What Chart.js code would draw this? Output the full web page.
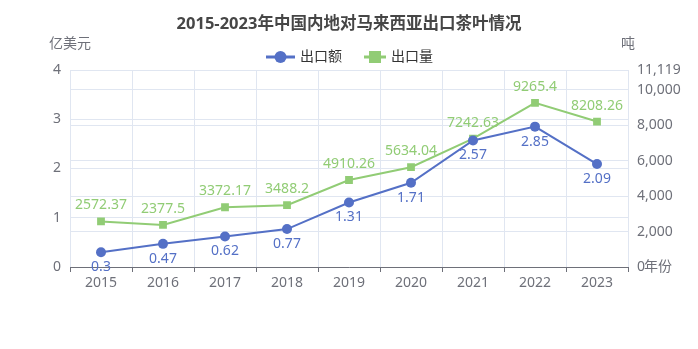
<!DOCTYPE html>
<html>
<head>
<meta charset="utf-8">
<script src="https://cdn.jsdelivr.net/npm/chart.js@4.4.1/dist/chart.umd.min.js"></script>
<style>
  html, body { margin: 0; padding: 0; background: #fff; }
</style>
</head>
<body>
<canvas id="chart" width="698" height="349"></canvas>
<script>
const years = ['2015', '2016', '2017', '2018', '2019', '2020', '2021', '2022', '2023'];
const exportValue = [0.3, 0.47, 0.62, 0.77, 1.31, 1.71, 2.57, 2.85, 2.09];       // 亿美元
const exportVolume = [2572.37, 2377.5, 3372.17, 3488.2, 4910.26, 5634.04, 7242.63, 9265.4, 8208.26]; // 吨
const leftTicks = [0, 1, 2, 3, 4];
const rightTicks = [0, 2000, 4000, 6000, 8000, 10000, 11119];

const FONT = "'Noto Sans', 'Noto Sans CJK SC', sans-serif";
const BLUE = '#5470c6';
const GREEN = '#91cc75';
const AXIS = '#6e7079';
const GRID = '#e0e6f1';

Chart.defaults.font.family = FONT;

// title, legend, axis names and point labels
const extras = {
  id: 'extras',
  afterDatasetsDraw(chart) {
    const ctx = chart.ctx;
    const area = chart.chartArea;
    ctx.save();
    ctx.font = '14px ' + FONT;
    ctx.textAlign = 'center';
    chart.data.datasets.forEach((ds, i) => {
      const meta = chart.getDatasetMeta(i);
      ctx.fillStyle = ds.borderColor;
      meta.data.forEach((pt, j) => {
        if (ds.yAxisID === 'y') {
          ctx.textBaseline = 'top';
          ctx.fillText(String(ds.data[j]), pt.x, pt.y + 8);
        } else {
          ctx.textBaseline = 'bottom';
          ctx.fillText(String(ds.data[j]), pt.x, pt.y - 9);
        }
      });
    });

    // title
    ctx.fillStyle = '#464646';
    ctx.font = 'bold 16.5px ' + FONT;
    ctx.textBaseline = 'middle';
    ctx.fillText('2015-2023年中国内地对马来西亚出口茶叶情况', 349, 24);

    // axis names
    ctx.font = '14px ' + FONT;
    ctx.fillStyle = AXIS;
    ctx.fillText('亿美元', 70, 44);
    ctx.fillText('吨', area.right, 44);
    ctx.textAlign = 'left';
    ctx.fillText('年份', area.right + 16, area.bottom);

    // legend
    const ly = 57;
    ctx.lineWidth = 3;
    ctx.strokeStyle = BLUE;
    ctx.beginPath(); ctx.moveTo(266, ly); ctx.lineTo(295, ly); ctx.stroke();
    ctx.fillStyle = BLUE;
    ctx.beginPath(); ctx.arc(280.5, ly, 6, 0, Math.PI * 2); ctx.fill();
    ctx.strokeStyle = GREEN;
    ctx.beginPath(); ctx.moveTo(364, ly); ctx.lineTo(386, ly); ctx.stroke();
    ctx.fillStyle = GREEN;
    ctx.fillRect(369, ly - 6, 12, 12);
    ctx.fillStyle = '#333';
    ctx.textBaseline = 'middle';
    ctx.fillText('出口额', 300, ly);
    ctx.fillText('出口量', 391, ly);
    ctx.restore();
  }
};

new Chart(document.getElementById('chart'), {
  type: 'line',
  data: {
    labels: years,
    datasets: [
      {
        label: '出口额',
        data: exportValue,
        yAxisID: 'y',
        borderColor: BLUE,
        backgroundColor: BLUE,
        borderWidth: 2,
        pointStyle: 'circle',
        pointRadius: 5,
        pointBorderWidth: 0,
        tension: 0
      },
      {
        label: '出口量',
        data: exportVolume,
        yAxisID: 'y1',
        borderColor: GREEN,
        backgroundColor: GREEN,
        borderWidth: 2,
        pointStyle: 'rect',
        pointRadius: 5.5,
        pointBorderWidth: 0,
        tension: 0
      }
    ]
  },
  options: {
    responsive: false,
    animation: false,
    layout: { padding: { top: 70, left: 0, right: 0, bottom: 0 } },
    plugins: {
      legend: { display: false },
      title: { display: false },
      tooltip: { enabled: false }
    },
    scales: {
      x: {
        offset: true,
        grid: { offset: true, color: GRID, tickColor: AXIS, tickLength: 5 },
        border: { color: AXIS, width: 1 },
        ticks: { color: AXIS, font: { size: 14 }, padding: 3, maxRotation: 0 },
        afterFit(scale) { scale.height = 82; }
      },
      y: {
        position: 'left',
        min: 0,
        max: 4,
        grid: { color: GRID, drawTicks: false },
        border: { display: false },
        ticks: { color: AXIS, font: { size: 14 }, padding: 9 },
        afterBuildTicks(scale) { scale.ticks = leftTicks.map(v => ({ value: v })); },
        afterFit(scale) { scale.width = 70; }
      },
      y1: {
        position: 'right',
        min: 0,
        max: 11119,
        grid: { color: GRID, drawTicks: false },
        border: { display: false },
        ticks: {
          color: AXIS,
          font: { size: 14 },
          padding: 9,
          callback: v => v.toLocaleString('en-US')
        },
        afterBuildTicks(scale) { scale.ticks = rightTicks.map(v => ({ value: v })); },
        afterFit(scale) { scale.width = 70; }
      }
    }
  },
  plugins: [extras]
});
</script>
</body>
</html>
